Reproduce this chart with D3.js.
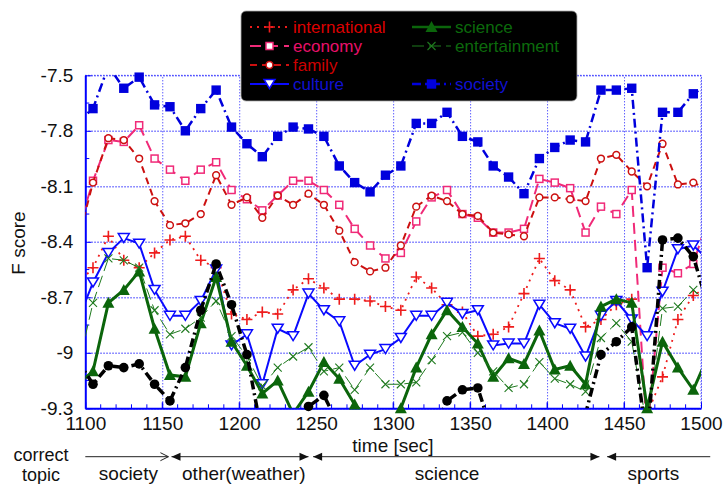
<!DOCTYPE html>
<html>
<head>
<meta charset="utf-8">
<script src="https://cdn.jsdelivr.net/npm/d3@7"></script>
<style>
  body { margin: 0; background: #fff; }
  svg { display: block; font-family: "Liberation Sans", Arial, sans-serif; }
</style>
</head>
<body>
<script>
// time axis (sec), one point every 10 sec, first and last fall outside the axis range
const times = [1095, 1105, 1115, 1125, 1135, 1145, 1155, 1165, 1175, 1185, 1195, 1205, 1215, 1225,
    1235, 1245, 1255, 1265, 1275, 1285, 1295, 1305, 1315, 1325, 1335, 1345, 1355, 1365, 1375, 1385,
    1395, 1405, 1415, 1425, 1435, 1445, 1455, 1465, 1475, 1485, 1495, 1505];

const international = [-8.63, -8.54, -8.37, -8.50, -8.54, -8.46, -8.39, -8.37, -8.50, -8.54, -8.79,
    -8.82, -8.78, -8.79, -8.66, -8.60, -8.65, -8.71, -8.71, -8.72, -8.75, -8.77, -8.59, -8.65, -8.74,
    -8.78, -8.91, -8.90, -8.86, -8.68, -8.49, -8.61, -8.66, -8.86, -8.82, -8.74, -8.71, -9.33, -9.13,
    -8.82, -8.69, -8.64];
const economy = [-8.35, -8.07, -7.85, -7.86, -7.77, -7.95, -8.01, -8.07, -8.01, -7.97, -8.12, -8.17,
    -8.23, -8.15, -8.07, -8.07, -8.12, -8.20, -8.33, -8.42, -8.49, -8.46, -8.29, -8.16, -8.12, -8.25,
    -8.27, -8.35, -8.35, -8.33, -8.06, -8.08, -8.11, -8.35, -8.21, -8.25, -8.12, -9.45, -8.54, -8.57,
    -8.52, -8.26];
const family = [-8.40, -8.08, -7.84, -7.85, -7.95, -8.18, -8.31, -8.30, -8.25, -8.04, -8.20, -8.16,
    -8.27, -8.15, -8.20, -8.14, -8.20, -8.34, -8.51, -8.56, -8.54, -8.42, -8.21, -8.15, -8.18, -8.25,
    -8.26, -8.35, -8.36, -8.37, -8.16, -8.16, -8.17, -8.18, -7.95, -7.93, -8.02, -8.10, -7.87, -8.09,
    -8.08, -8.12];
const culture = [-8.83, -8.62, -8.46, -8.38, -8.41, -8.66, -8.80, -8.80, -8.72, -8.55, -8.96, -8.90,
    -9.17, -8.87, -8.91, -8.68, -8.77, -8.83, -9.07, -9.01, -8.98, -8.92, -8.80, -8.80, -8.73, -8.79,
    -8.77, -8.96, -8.95, -8.95, -8.74, -8.84, -8.87, -9.02, -8.80, -8.72, -8.82, -8.91, -8.67, -8.44,
    -8.42, -8.50];
const science = [-9.17, -9.10, -8.73, -8.66, -8.56, -8.87, -9.12, -9.13, -8.84, -8.59, -8.94, -9.07,
    -9.22, -9.15, -9.33, -9.21, -9.05, -9.14, -9.28, -9.36, -9.34, -9.30, -9.08, -8.90, -8.77, -8.86,
    -8.95, -9.13, -9.03, -9.06, -8.88, -9.09, -9.07, -9.17, -8.75, -8.71, -8.73, -9.30, -8.94, -9.08,
    -9.20, -9.01];
const entertainment = [-9.09, -8.73, -8.49, -8.50, -8.54, -8.77, -8.90, -8.87, -8.81, -8.72, -8.91,
    -9.02, -9.18, -9.08, -9.02, -8.97, -9.10, -9.08, -9.20, -9.08, -9.17, -9.17, -9.16, -9.04, -8.91,
    -8.89, -9.00, -9.10, -9.19, -9.17, -9.05, -9.14, -9.17, -9.21, -8.92, -8.84, -8.94, -9.40, -8.76,
    -8.75, -8.66, -8.73];
const society = [-7.75, -7.68, -7.45, -7.57, -7.51, -7.66, -7.67, -7.80, -7.68, -7.58, -7.78, -7.87,
    -7.94, -7.83, -7.78, -7.79, -7.83, -7.99, -8.08, -8.13, -8.04, -7.99, -7.76, -7.76, -7.70, -7.83,
    -7.86, -7.99, -8.05, -8.14, -7.95, -7.89, -7.85, -7.86, -7.58, -7.58, -7.57, -8.54, -7.70, -7.70,
    -7.60, -7.55];
// unlabelled black series (not in the legend)
const sports = [-9.04, -9.17, -9.07, -9.08, -9.06, -9.17, -9.26, -9.08, -8.77, -8.52, -8.74, -9.01,
    -9.45, -9.52, -9.44, -9.29, -9.23, -9.40, -9.55, -9.60, -9.58, -9.55, -9.50, -9.45, -9.26, -9.20,
    -9.19, -9.45, -9.55, -9.60, -9.58, -9.55, -9.50, -9.33, -9.01, -8.94, -8.86, -9.50, -8.39, -8.38,
    -8.48, -8.76];

const xTicks = [1100, 1150, 1200, 1250, 1300, 1350, 1400, 1450, 1500];
const yTicks = [-7.5, -7.8, -8.1, -8.4, -8.7, -9, -9.3];

// correct topic bands under the axis
const topicLabels = ['society', 'other(weather)', 'science', 'sports'];
const topicStart = [1100, 1156, 1248, 1439];
const topicEnd = [1154, 1245, 1434, 1506];
const topicMid = [1128, 1203, 1335, 1469];

const svg = d3.select('body')
    .append('svg')
    .attr('width', 724)
    .attr('height', 484);

const pLeft = 85.3, pRight = 701, pTop = 75.3, pBottom = 408.3;
const x = d3.scaleLinear().domain([1100, 1500]).range([pLeft, pRight]);
const y = d3.scaleLinear().domain([-9.3, -7.5]).range([pBottom, pTop]);

svg.append('defs').append('clipPath')
    .attr('id', 'plotclip')
    .append('rect')
    .attr('x', pLeft).attr('y', pTop)
    .attr('width', pRight - pLeft).attr('height', pBottom - pTop);

// grid
svg.append('g')
    .attr('transform', `translate(0,${pBottom})`)
    .call(d3.axisBottom(x).tickValues(xTicks.slice(1)).tickSize(-(pBottom - pTop)).tickFormat(''))
    .call(g => g.select('.domain').remove())
    .selectAll('line')
    .attr('stroke', '#1a1aff')
    .attr('stroke-width', 1)
    .attr('stroke-dasharray', '1,2');

svg.append('g')
    .attr('transform', `translate(${pLeft},0)`)
    .call(d3.axisLeft(y).tickValues(yTicks).tickSize(-(pRight - pLeft)).tickFormat(''))
    .call(g => g.select('.domain').remove())
    .selectAll('line')
    .attr('stroke', '#6e6eff')
    .attr('stroke-width', 1.4)
    .attr('stroke-dasharray', '1.5,1.5');

// minor ticks
const xMinor = d3.range(1110, 1500, 10);
svg.append('g').selectAll('line')
    .data(xMinor)
    .enter().append('line')
    .attr('x1', d => x(d)).attr('x2', d => x(d))
    .attr('y1', pBottom).attr('y2', d => pBottom - (d % 50 === 0 ? 6 : 4))
    .attr('stroke', '#0000ff');
const yMinor = [-7.65, -7.95, -8.25, -8.55, -8.85, -9.15];
svg.append('g').selectAll('line')
    .data(yMinor)
    .enter().append('line')
    .attr('x1', pLeft).attr('x2', pLeft + 4)
    .attr('y1', d => y(d)).attr('y2', d => y(d))
    .attr('stroke', '#0000ff');

// frame: solid left/bottom, dotted top/right
svg.append('line').attr('x1', pLeft).attr('x2', pRight).attr('y1', pTop).attr('y2', pTop)
    .attr('stroke', '#1a1aff').attr('stroke-dasharray', '1,2');
svg.append('line').attr('x1', pRight).attr('x2', pRight).attr('y1', pTop).attr('y2', pBottom)
    .attr('stroke', '#1a1aff').attr('stroke-dasharray', '1,2');

const xAxis = svg.append('g')
    .attr('transform', `translate(0,${pBottom})`)
    .call(d3.axisBottom(x).tickValues(xTicks).tickSizeInner(-6).tickSizeOuter(0).tickPadding(8).tickFormat(d3.format('d')));
xAxis.select('.domain').attr('stroke', '#0000ff').attr('stroke-width', 2);
xAxis.selectAll('line').attr('stroke', '#0000ff');
xAxis.selectAll('text').attr('font-size', 19).attr('fill', '#111')
    .attr('font-family', '"Liberation Sans", Arial, sans-serif');

const yAxis = svg.append('g')
    .attr('transform', `translate(${pLeft},0)`)
    .call(d3.axisLeft(y).tickValues(yTicks).tickSizeInner(-6).tickSizeOuter(0).tickPadding(12).tickFormat(d => d));
yAxis.select('.domain').attr('stroke', '#0000ff').attr('stroke-width', 2);
yAxis.selectAll('line').attr('stroke', '#0000ff');
yAxis.selectAll('text').attr('font-size', 19).attr('fill', '#111')
    .attr('font-family', '"Liberation Sans", Arial, sans-serif');

svg.append('text')
    .attr('transform', 'translate(25,243) rotate(-90)')
    .attr('text-anchor', 'middle')
    .attr('font-size', 19)
    .attr('fill', '#111')
    .text('F score');

svg.append('text')
    .attr('x', 393).attr('y', 452)
    .attr('text-anchor', 'middle')
    .attr('font-size', 19)
    .attr('fill', '#111')
    .text('time [sec]');

// marker shapes
const shapes = {
    plus: (g, c) => g.append('path').attr('d', 'M-5.5,0H5.5M0,-5.5V5.5').attr('stroke', c).attr('stroke-width', 1.6).attr('fill', 'none'),
    sqOpen: (g, c) => g.append('rect').attr('x', -3.5).attr('y', -3.5).attr('width', 7).attr('height', 7).attr('fill', '#fff').attr('stroke', c).attr('stroke-width', 1.5),
    circOpen: (g, c) => g.append('circle').attr('r', 3.4).attr('fill', '#fff').attr('stroke', c).attr('stroke-width', 1.5),
    triDown: (g, c) => g.append('path').attr('d', 'M-5.5,-4.5L5.5,-4.5L0,4.5Z').attr('fill', '#fff').attr('stroke', c).attr('stroke-width', 1.5),
    triUp: (g, c) => g.append('path').attr('d', 'M-6,5L6,5L0,-6Z').attr('fill', c),
    cross: (g, c) => g.append('path').attr('d', 'M-4,-4L4,4M-4,4L4,-4').attr('stroke', c).attr('stroke-width', 1.1).attr('fill', 'none'),
    sqFill: (g, c) => g.append('rect').attr('x', -4.7).attr('y', -4.7).attr('width', 9.4).attr('height', 9.4).attr('fill', c),
    dot: (g, c) => g.append('circle').attr('r', 4.8).attr('fill', c)
};

const series = [
    {name: 'international', values: international, color: '#ee1c1c', text: '#dd0000', width: 1.8, dash: '2,5', shape: 'plus'},
    {name: 'economy', values: economy, color: '#f02a78', text: '#e8106a', width: 2, dash: '11,6', shape: 'sqOpen'},
    {name: 'family', values: family, color: '#cc1010', text: '#cc0000', width: 2, dash: '7,5', shape: 'circOpen'},
    {name: 'culture', values: culture, color: '#0a0aff', text: '#1010d0', width: 2, dash: null, shape: 'triDown'},
    {name: 'science', values: science, color: '#0b650b', text: '#0c6a0c', width: 3, dash: null, shape: 'triUp'},
    {name: 'entertainment', values: entertainment, color: '#1f7a1f', text: '#0c6a0c', width: 1, dash: '12,5', shape: 'cross'},
    {name: 'society', values: society, color: '#0000dd', text: '#1010d0', width: 2.5, dash: '9,4,2,4', shape: 'sqFill'},
    {name: '', values: sports, color: '#000', text: '#000', width: 3.5, dash: '9,4,2,4', shape: 'dot'}
];

const line = d3.line()
    .x(d => x(d.t))
    .y(d => y(d.v));

const plot = svg.append('g');
series.forEach(s => {
    const pts = times.map((t, i) => ({t: t, v: s.values[i]}));
    plot.append('path')
        .datum(pts)
        .attr('clip-path', 'url(#plotclip)')
        .attr('d', line)
        .attr('fill', 'none')
        .attr('stroke', s.color)
        .attr('stroke-width', s.width)
        .attr('stroke-dasharray', s.dash);
    pts.filter(p => p.t >= 1100 && p.t <= 1500 && p.v >= -9.315 && p.v <= -7.49)
        .forEach(p => {
            const g = plot.append('g').attr('transform', `translate(${x(p.t)},${y(p.v)})`);
            shapes[s.shape](g, s.color);
        });
});

// legend
const legend = svg.append('g');
legend.append('rect')
    .attr('x', 241).attr('y', 11)
    .attr('width', 336).attr('height', 90)
    .attr('rx', 5)
    .attr('fill', '#000')
    .attr('stroke', '#aaa')
    .attr('stroke-width', 0.8);
const legendCols = [250, 412];
const legendRows = [27, 46, 65, 84];
const legendPlace = [[0, 0], [0, 1], [0, 2], [0, 3], [1, 0], [1, 1], [1, 3]];
series.slice(0, 7).forEach((s, i) => {
    const lx = legendCols[legendPlace[i][0]];
    const ly = legendRows[legendPlace[i][1]];
    legend.append('line')
        .attr('x1', lx).attr('x2', lx + 39)
        .attr('y1', ly).attr('y2', ly)
        .attr('stroke', s.color)
        .attr('stroke-width', Math.min(s.width, 2.5))
        .attr('stroke-dasharray', s.dash);
    const g = legend.append('g').attr('transform', `translate(${lx + 19.5},${ly})`);
    shapes[s.shape](g, s.color);
    legend.append('text')
        .attr('x', lx + 43).attr('y', ly + 6)
        .attr('font-size', 17)
        .attr('fill', s.text)
        .text(s.name);
});

// correct topic annotation
const ann = svg.append('g').attr('fill', '#111').attr('font-size', 19);
ann.append('text').attr('x', 41).attr('y', 460.5).attr('font-size', 18).attr('text-anchor', 'middle').text('correct');
ann.append('text').attr('x', 41).attr('y', 480.5).attr('font-size', 18).attr('text-anchor', 'middle').text('topic');
const ay = 456.7;
topicLabels.forEach((lab, i) => {
    const x1 = x(topicStart[i]), x2 = x(topicEnd[i]);
    ann.append('line')
        .attr('x1', x1).attr('x2', x2)
        .attr('y1', ay).attr('y2', ay)
        .attr('stroke', '#222').attr('stroke-width', 1);
    if (i === 0) {
        ann.append('path')
            .attr('d', `M${x2 - 8},${ay - 4}L${x2},${ay}L${x2 - 8},${ay + 4}`)
            .attr('fill', 'none').attr('stroke', '#222').attr('stroke-width', 1);
    } else {
        ann.append('path')
            .attr('d', `M${x1},${ay}L${x1 + 9},${ay - 4}L${x1 + 9},${ay + 4}Z`)
            .attr('fill', '#111');
        if (i < topicLabels.length - 1) {
            ann.append('path')
                .attr('d', `M${x2},${ay}L${x2 - 9},${ay - 4}L${x2 - 9},${ay + 4}Z`)
                .attr('fill', '#111');
        }
    }
    ann.append('text')
        .attr('x', x(topicMid[i])).attr('y', 480)
        .attr('text-anchor', 'middle')
        .text(lab);
});
</script>
</body>
</html>
